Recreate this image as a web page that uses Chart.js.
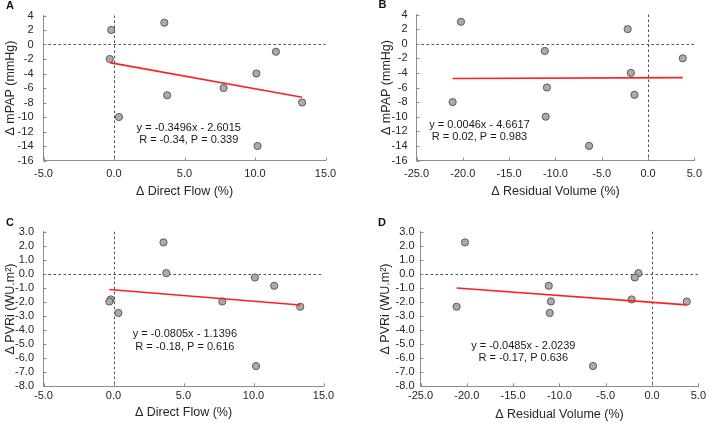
<!DOCTYPE html>
<html>
<head>
<meta charset="utf-8">
<script src="https://cdn.jsdelivr.net/npm/chart.js"></script>
<style>
  html, body { margin: 0; padding: 0; background: #fff; }
  #wrap { position: relative; width: 709px; height: 423px; }
  canvas { position: absolute; }
</style>
</head>
<body>
<div id="wrap">
  <canvas id="chartA" width="354" height="211" style="left:0;top:0"></canvas>
  <canvas id="chartB" width="355" height="211" style="left:354px;top:0"></canvas>
  <canvas id="chartC" width="354" height="212" style="left:0;top:211px"></canvas>
  <canvas id="chartD" width="355" height="212" style="left:354px;top:211px"></canvas>
</div>
<script>
// one value per patient, same order in every array
const directFlow = [-0.2, -0.3, 0.35, 3.57, 3.77, 7.77, 10.1, 10.18, 11.48, 13.34];
const residualVolume = [-2.2, 3.75, -11.05, -20.2, -1.47, -10.92, -1.86, -6.37, -11.15, -21.1];
const mPAP = [2, -2, -10, 3, -7, -6, -4, -14, -1, -8];
const pvri = [-1.82, -1.97, -2.78, 2.24, 0.05, -1.96, -0.26, -6.56, -0.85, -2.34];

// trendlines as printed on the figure: [slope, intercept]
const fitA = [-0.3496, -2.6015];
const fitB = [0.0046, -4.6617];
const fitC = [-0.0805, -1.1396];
const fitD = [-0.0485, -2.0239];

const textA = ['y = -0.3496x - 2.6015', 'R = -0.34, P = 0.339'];
const textB = ['y = 0.0046x - 4.6617', 'R = 0.02, P = 0.983'];
const textC = ['y = -0.0805x - 1.1396', 'R = -0.18, P = 0.616'];
const textD = ['y = -0.0485x - 2.0239', 'R = -0.17, P 0.636'];

// tick labels
const flowTicks = [-5, 0, 5, 10, 15];
const volumeTicks = [-25, -20, -15, -10, -5, 0, 5];
const mpapTicks = [-16, -14, -12, -10, -8, -6, -4, -2, 0, 2, 4];
const pvriTicks = [-8, -7, -6, -5, -4, -3, -2, -1, 0, 1, 2, 3];

const flowTitle = '\u0394 Direct Flow (%)';
const volumeTitle = '\u0394 Residual Volume (%)';
const mpapTitle = '\u0394 mPAP (mmHg)';
const pvriTitle = '\u0394 PVRi (WU.m\u00b2)';

Chart.defaults.font.family = '"Liberation Sans", Arial, sans-serif';
Chart.defaults.color = '#262626';

const axisColor = '#8c8c8c';

const decor = {
    id: 'decor',
    beforeDatasetsDraw(chart, args, opts) {
        const {ctx, chartArea: a, scales: {x, y}} = chart;
        const zx = x.getPixelForValue(0);
        const zy = y.getPixelForValue(0);
        ctx.save();
        ctx.strokeStyle = '#4d4d4d';
        ctx.lineWidth = 1;
        ctx.setLineDash([2.5, 2.5]);
        ctx.beginPath();
        ctx.moveTo(a.left, Math.round(zy) + 0.5);
        ctx.lineTo(a.right, Math.round(zy) + 0.5);
        ctx.moveTo(Math.round(zx) + 0.5, a.top);
        ctx.lineTo(Math.round(zx) + 0.5, a.bottom);
        ctx.stroke();
        ctx.restore();
    },
    afterDraw(chart, args, opts) {
        const {ctx, chartArea: a, scales: {x, y}} = chart;
        ctx.save();
        // short tick marks pointing into the plot
        ctx.strokeStyle = axisColor;
        ctx.lineWidth = 1;
        ctx.beginPath();
        x.ticks.forEach(t => {
            const px = Math.round(x.getPixelForValue(t.value)) + 0.5;
            ctx.moveTo(px, a.bottom);
            ctx.lineTo(px, a.bottom - 3);
        });
        y.ticks.forEach(t => {
            const py = Math.round(y.getPixelForValue(t.value)) + 0.5;
            ctx.moveTo(a.left, py);
            ctx.lineTo(a.left + 3, py);
        });
        ctx.stroke();

        // panel letter
        ctx.fillStyle = '#111';
        ctx.font = 'bold 11px "Liberation Sans", Arial, sans-serif';
        ctx.textAlign = 'center';
        ctx.textBaseline = 'middle';
        ctx.fillText(opts.letter, opts.letterAt[0], opts.letterAt[1]);

        // regression equation
        ctx.fillStyle = '#1a1a1a';
        ctx.font = '11px "Liberation Sans", Arial, sans-serif';
        const ex = x.getPixelForValue(opts.textAt[0]);
        const ey = y.getPixelForValue(opts.textAt[1]);
        opts.text.forEach((line, i) => ctx.fillText(line, ex, ey + i * 12.5));
        ctx.restore();
    }
};

function panel(id, o) {
    const canvas = document.getElementById(id);
    const W = canvas.width, H = canvas.height, a = o.area;
    const x0 = Math.min(...o.xData), x1 = Math.max(...o.xData);
    const ticksFrom = arr => s => { s.ticks = arr.map(v => ({value: v})); };

    return new Chart(canvas, 
    {
        type: 'scatter',
        data: 
        {
            datasets: [
                {
                    data: o.xData.map((v, i) => ({x: v, y: o.yData[i]})),
                    backgroundColor: '#ababab',
                    borderColor: '#5a5a5a',
                    borderWidth: 1,
                    pointRadius: 3.6,
                    order: 2
                },
                {
                    type: 'line',
                    data: [
                        {x: x0, y: o.fit[0] * x0 + o.fit[1]},
                        {x: x1, y: o.fit[0] * x1 + o.fit[1]}
                    ],
                    borderColor: '#ff1f1f',
                    borderWidth: 1.6,
                    pointRadius: 0,
                    fill: false,
                    order: 1
                }
            ]
        },
        options: 
        {
            responsive: false,
            animation: false,
            events: [],
            layout: { padding: { top: a.top, right: W - a.right, left: 0, bottom: 0 } },
            plugins: 
            {
                legend: { display: false },
                tooltip: { enabled: false },
                decor: { letter: o.letter, letterAt: o.letterAt, text: o.text, textAt: o.textAt }
            },
            scales: 
            {
                x: 
                {
                    type: 'linear',
                    min: o.xTicks[0],
                    max: o.xTicks[o.xTicks.length - 1],
                    afterBuildTicks: ticksFrom(o.xTicks),
                    afterFit: s => { s.height = H - a.bottom; },
                    ticks: { font: { size: 11 }, padding: o.xTickPad, maxRotation: 0, callback: v => v.toFixed(1) },
                    grid: { display: true, drawOnChartArea: false, drawTicks: false },
                    border: { display: true, color: axisColor, width: 1 },
                    title: { display: true, text: o.xTitle, font: { size: 12.5 }, padding: { top: 0, bottom: o.xTitlePad } }
                },
                y: 
                {
                    type: 'linear',
                    min: o.yTicks[0],
                    max: o.yTicks[o.yTicks.length - 1],
                    afterBuildTicks: ticksFrom(o.yTicks),
                    afterFit: s => { s.width = a.left; },
                    ticks: { font: { size: 11, lineHeight: 1 }, padding: o.yTickPad, callback: v => v.toFixed(o.yDec) },
                    grid: { display: true, drawOnChartArea: false, drawTicks: false },
                    border: { display: true, color: axisColor, width: 1 },
                    title: { display: true, text: o.yTitle, font: { size: 12.5 }, padding: { top: o.yTitlePad, bottom: 0 } }
                }
            }
        },
        plugins: [decor]
    });
}

panel('chartA', {
    xData: directFlow, yData: mPAP, fit: fitA, text: textA, textAt: [5.3, -11.5],
    xTicks: flowTicks, yTicks: mpapTicks, yDec: 0, xTitle: flowTitle, yTitle: mpapTitle,
    area: { left: 43.5, top: 5.5, right: 325.5, bottom: 160.5 },
    xTickPad: 7, yTickPad: 10, xTitlePad: 11.8, yTitlePad: 3.5,
    letter: 'A', letterAt: [10, 6.3]
});

panel('chartB', {
    xData: residualVolume, yData: mPAP, fit: fitB, text: textB, textAt: [-18.2, -11.1],
    xTicks: volumeTicks, yTicks: mpapTicks, yDec: 0, xTitle: volumeTitle, yTitle: mpapTitle,
    area: { left: 62.5, top: 5.5, right: 348, bottom: 160.5 },
    xTickPad: 7, yTickPad: 9, xTitlePad: 11.8, yTitlePad: 25.5,
    letter: 'B', letterAt: [28.5, 5]
});

panel('chartC', {
    xData: directFlow, yData: pvri, fit: fitC, text: textC, textAt: [5.1, -4.3],
    xTicks: flowTicks, yTicks: pvriTicks, yDec: 1, xTitle: flowTitle, yTitle: pvriTitle,
    area: { left: 43.5, top: 20.7, right: 323.5, bottom: 175.3 },
    xTickPad: 3, yTickPad: 9.5, xTitlePad: 2.8, yTitlePad: 3,
    letter: 'C', letterAt: [10, 11.7]
});

panel('chartD', {
    xData: residualVolume, yData: pvri, fit: fitD, text: textD, textAt: [-13.9, -5.1],
    xTicks: volumeTicks, yTicks: pvriTicks, yDec: 1, xTitle: volumeTitle, yTitle: pvriTitle,
    area: { left: 66.5, top: 20.7, right: 348, bottom: 175.3 },
    xTickPad: 3, yTickPad: 6, xTitlePad: 1.2, yTitlePad: 24.2,
    letter: 'D', letterAt: [28, 11.7]
});
</script>
</body>
</html>
